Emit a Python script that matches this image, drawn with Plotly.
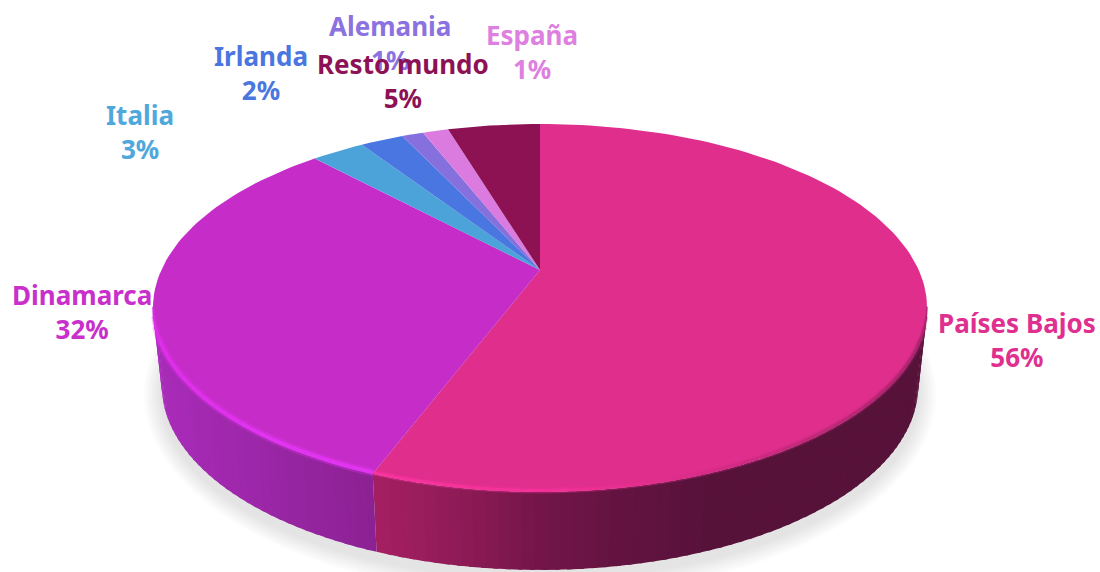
import math
import plotly.graph_objects as go

categories = ["Países Bajos", "Dinamarca", "Italia", "Irlanda", "Alemania", "España", "Resto mundo"]
values = [55.8, 32.2, 2.7, 2.2, 1.1, 1.3, 4.7]

slice_colors = ["#E02E8C", "#C62DC8", "#4CA3D9", "#4A76E2", "#8570DD", "#DB7BDF", "#8C1254"]
text_colors = ["#E0308F", "#C92FCB", "#4FA8DC", "#4A76E0", "#8B72E0", "#DE80E0", "#8D1255"]
# label centres in pixels (x, y of the middle of the two lines)
label_xy = {"Países Bajos": (1017, 340), "Dinamarca": (82, 312), "Italia": (140, 132),
            "Irlanda": (261, 73), "Alemania": (390, 43), "España": (532, 52), "Resto mundo": (403, 81)}
label_order = ["Países Bajos", "Dinamarca", "Italia", "Irlanda", "Alemania", "España", "Resto mundo"]

# perspective disc -> picture
CX, CY, K, A, B = 540, 270, -0.2065, 378.7, 176.1
DEPTH, XS = 78, 0.977


def top(theta, r=1.0):
    t = math.radians(theta)
    u, v = r * math.sin(t), -r * math.cos(t)
    d = 1 + K * v
    return CX + A * u / d, CY + B * v / d


def bottom(theta):
    x, y = top(theta)
    return CX + (x - CX) * XS, y + DEPTH


def hex_rgb(h):
    return tuple(int(h[i:i + 2], 16) for i in (1, 3, 5))


def ramp(x, stops):
    if x <= stops[0][0]:
        return stops[0][1]
    for (x0, c0), (x1, c1) in zip(stops, stops[1:]):
        if x <= x1:
            f = (x - x0) / (x1 - x0)
            a, b = hex_rgb(c0), hex_rgb(c1)
            return "#%02x%02x%02x" % tuple(round(a[i] + (b[i] - a[i]) * f) for i in range(3))
    return stops[-1][1]


side_ramps = {
    "Países Bajos": [(373, "#A51F63"), (460, "#8C1A55"), (540, "#721548"), (620, "#621340"), (710, "#57123A")],
    "Dinamarca": [(160, "#A82BB8"), (373, "#8B2192")],
}

total = sum(values)
cum, bounds = 0, []
for v in values:
    bounds.append((cum / total * 360, (cum + v) / total * 360))
    cum += v

RIGHT_EXTREME = max(range(0, 180), key=lambda t: top(t)[0])
LEFT_EXTREME = min(range(180, 360), key=lambda t: top(t)[0])

fig = go.Figure()


def poly(xs, ys, color):
    fig.add_trace(go.Scatter(x=xs, y=ys, mode="lines", fill="toself", fillcolor=color,
                             line=dict(color=color, width=0), hoverinfo="skip", showlegend=False))


# soft shadow under the disc
for grow in range(18, 0, -2):
    th = [i * 2 for i in range(181)]
    xs = [CX + (bottom(t)[0] - CX) * (1 + grow / 378) for t in th]
    ys = [bottom(t)[1] + 8 + (bottom(t)[1] - 385) * (grow / 185) for t in th]
    poly(xs, ys, "rgba(130,130,130,0.028)")

# side wall, strip by strip; each strip overlaps the one before it
for name, (a0, a1) in list(zip(categories, bounds))[:2]:
    lo, hi = a0, min(a1, LEFT_EXTREME + 1)
    if name == "Países Bajos":
        lo = RIGHT_EXTREME - 1
    n = max(1, int((hi - lo) / 1.5))
    stops = side_ramps[name]
    for i in range(n):
        t0 = lo + (hi - lo) * i / n
        t1 = lo + (hi - lo) * (i + 1) / n
        s = max(lo, t0 - 0.6)
        p0, p1, q1, q0 = top(s), top(t1), bottom(t1), bottom(s)
        poly([p0[0], p1[0], q1[0], q0[0], p0[0]], [p0[1], p1[1], q1[1], q0[1], p0[1]],
             ramp(top((t0 + t1) / 2)[0], stops))

# top face
for (a0, a1), color in zip(bounds, slice_colors):
    n = max(3, int((a1 - a0) / 1.5))
    pts = [top(a0 + (a1 - a0) * i / n) for i in range(n + 1)]
    poly([CX] + [p[0] for p in pts] + [CX], [CY] + [p[1] for p in pts] + [CY], color)

# soft highlight on the front edge
rim_ramps = {
    "Países Bajos": [(373, "#FA35A0"), (560, "#F5329A"), (660, "#E02E8C"), (930, "#A3246A")],
    "Dinamarca": [(150, "#E02EEA"), (260, "#E535F5"), (373, "#E535F5")],
}
rim_width = {"Países Bajos": 1.0, "Dinamarca": 1.35}
for name, (a0, a1) in list(zip(categories, bounds))[:2]:
    lo, hi = a0, min(a1, LEFT_EXTREME)
    if name == "Países Bajos":
        lo = RIGHT_EXTREME
    n = max(1, int((hi - lo) / 3))
    for i in range(n):
        t0 = lo + (hi - lo) * i / n
        t1 = lo + (hi - lo) * (i + 1) / n
        pts = [top(t0), top((t0 + t1) / 2), top(t1)]
        xs = [p[0] for p in pts]
        ys = [p[1] - 1.5 for p in pts]
        c = ramp(xs[1], rim_ramps[name])
        end = t0 - lo if name == "Países Bajos" else hi - t1
        taper = min(1, end / 14 + 0.35) * rim_width[name]
        for w, op in [(6, .3), (3, .85)]:
            fig.add_trace(go.Scatter(x=xs, y=ys, mode="lines", opacity=op,
                                     line=dict(color=c, width=w * taper), hoverinfo="skip", showlegend=False))

# labels
value_of = dict(zip(categories, values))
color_of = dict(zip(categories, text_colors))
for name in label_order:
    x, y = label_xy[name]
    fig.add_annotation(x=x, y=y, xref="x", yref="y", showarrow=False,
                       text=f"{name}<br>{round(value_of[name])}%", align="center",
                       font=dict(family="Noto Sans", size=26, color=color_of[name], weight=700))

fig.update_layout(width=1100, height=572, margin=dict(l=0, r=0, t=0, b=0),
                  paper_bgcolor="white", plot_bgcolor="white", showlegend=False,
                  xaxis=dict(range=[0, 1100], visible=False, fixedrange=True),
                  yaxis=dict(range=[572, 0], visible=False, fixedrange=True))
fig.write_html("out.html", config={"displayModeBar": False},
               post_script="document.body.style.margin='0';document.body.style.overflow='hidden';")
